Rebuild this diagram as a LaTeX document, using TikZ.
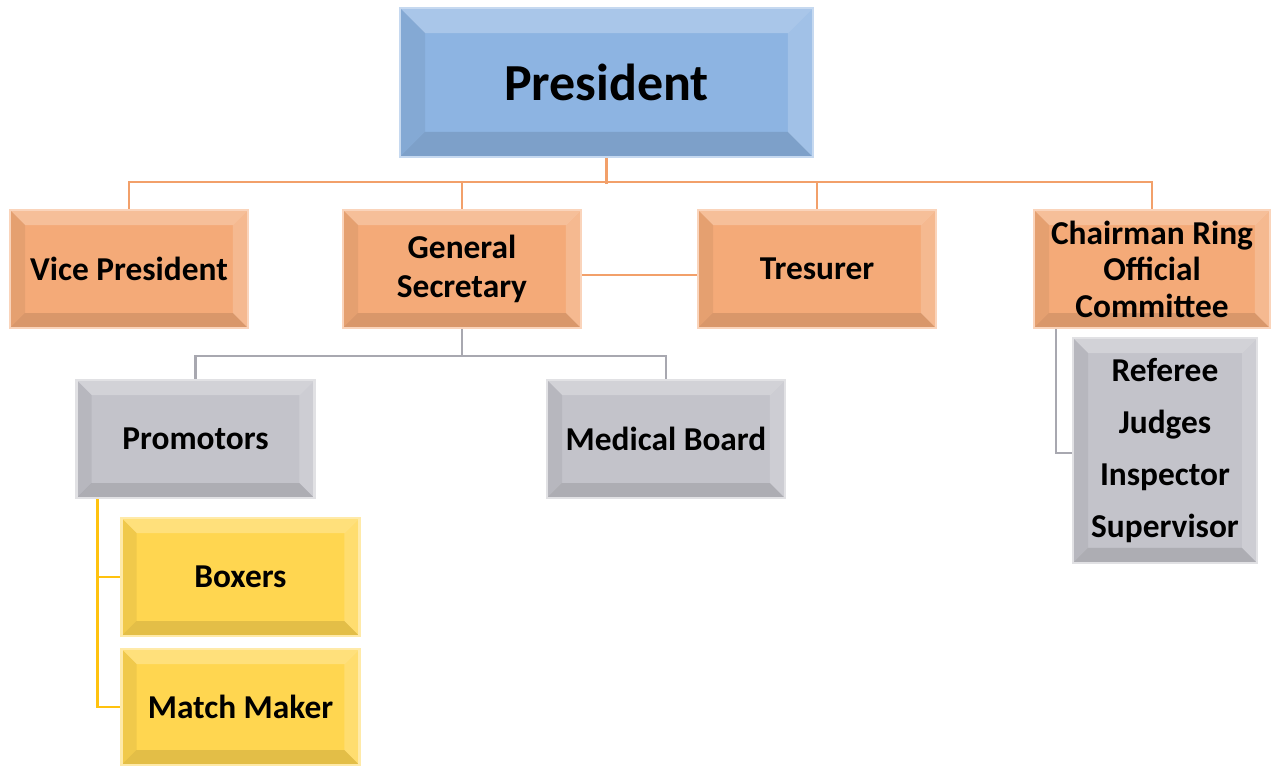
\documentclass[tikz,border=0pt]{standalone}
\usepackage{fontspec}
\setmainfont{Carlito}
\usetikzlibrary{calc}

\definecolor{presblue}{HTML}{8DB4E2}
\definecolor{roleorange}{HTML}{F4AA78}
\definecolor{staffgray}{HTML}{C3C3CA}
\definecolor{teamyellow}{HTML}{FFD650}
\definecolor{olinecol}{HTML}{F2A06A}
\definecolor{glinecol}{HTML}{A8A8B0}
\definecolor{ylinecol}{HTML}{FFC20E}

\tikzset{
	bevel/.style={path picture={
		\coordinate (bnw) at (path picture bounding box.north west);
		\coordinate (bse) at (path picture bounding box.south east);
		\coordinate (bne) at (bse |- bnw);
		\coordinate (bsw) at (bnw |- bse);
		% top and right lighter, bottom and left darker
		\fill [white, opacity=.25] (bnw) -- (bne) -- ($(bne)+(-#1,-#1)$) -- ($(bnw)+(#1,-#1)$) -- cycle;
		\fill [white, opacity=.18] (bne) -- (bse) -- ($(bse)+(-#1,#1)$) -- ($(bne)+(-#1,-#1)$) -- cycle;
		\fill [black, opacity=.11] (bsw) -- (bse) -- ($(bse)+(-#1,#1)$) -- ($(bsw)+(#1,#1)$) -- cycle;
		\fill [black, opacity=.06] (bnw) -- (bsw) -- ($(bsw)+(#1,#1)$) -- ($(bnw)+(#1,-#1)$) -- cycle;
	}},
	bevel/.default=0.3cm,
	box/.style={draw=#1!50!white, line width=1.2pt, fill=#1, bevel, align=center, inner sep=0pt,
		font=\bfseries\fontsize{19}{22.5}\selectfont, minimum width=4.76cm, minimum height=2.36cm},
	oline/.style={draw=olinecol, line width=1.2pt},
	gline/.style={draw=glinecol, line width=1.2pt},
	yline/.style={draw=ylinecol, line width=1.2pt}
}

\begin{document}
\begin{tikzpicture}[x=0.02cm, y=-0.02cm]
	\useasboundingbox (0,0) rectangle (1271,765);

	% top
	\node [box=presblue, bevel=0.5cm, minimum width=8.26cm, minimum height=2.98cm,
		font=\bfseries\fontsize{29.6}{34}\selectfont] (pres) at (606.5,82.5) {President};

	% second row
	\node [box=roleorange] (vp) at (129,269) {Vice President};
	\node [box=roleorange] (gs) at (462,269) {General\\Secretary};
	\node [box=roleorange] (tres) at (817,269) {Tresurer};
	\node [box=roleorange, minimum width=4.72cm, font=\bfseries\fontsize{19}{20.8}\selectfont]
		(chair) at (1152,269) {Chairman Ring\\Official\\Committee};

	% third row
	\node [box=staffgray] (prom) at (195.5,439) {Promotors};
	\node [box=staffgray] (med) at (666,439) {Medical Board};
	\node [box=staffgray, minimum width=3.68cm, minimum height=4.5cm,
		font=\bfseries\fontsize{19}{29.6}\selectfont] (ring) at (1165,450.5) {Referee\\Judges\\Inspector\\Supervisor};

	% under promotors
	\node [box=teamyellow] (boxers) at (240.5,577) {Boxers};
	\node [box=teamyellow, minimum height=2.32cm] (maker) at (240.5,707) {Match Maker};

	% connectors
	\draw [oline] (pres.south) -- ++(0,26);
	\draw [oline] (vp.north) -- ++(0,-27) -| (chair.north);
	\draw [oline] (gs.north) -- ++(0,-27);
	\draw [oline] (tres.north) -- ++(0,-27);
	\draw [oline] ([yshift=-0.12cm]gs.east) -- ([yshift=-0.12cm]tres.west);

	\draw [gline] (gs.south) -- ++(0,27) coordinate (gbus);
	\draw [gline] (prom.north) |- (gbus) -| (med.north);
	\draw [gline] ([xshift=0.46cm]chair.south west) |- ([yshift=-0.05cm]ring.west);

	\draw [yline] ([xshift=0.44cm]prom.south west) |- (boxers.west);
	\draw [yline] ([xshift=0.44cm]prom.south west) |- (maker.west);
\end{tikzpicture}
\end{document}
